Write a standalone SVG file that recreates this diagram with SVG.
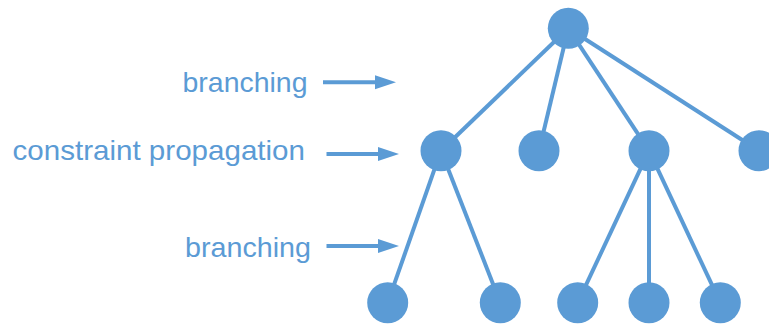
<svg xmlns="http://www.w3.org/2000/svg" width="769" height="327" viewBox="0 0 769 327">
<defs>
<style>
.lbl{font-family:"Liberation Sans",Arial,sans-serif;font-size:28px;fill:#5B9BD5}
.edge{stroke:#5B9BD5;stroke-width:4;fill:none}
.node{fill:#5B9BD5}
.arr{stroke:#5B9BD5;stroke-width:4}
.head{fill:#5B9BD5}
</style>
</defs>
<rect width="769" height="327" fill="#fff"/>
<g id="labels">
<g id="label-branching-1"><text class="lbl" x="182.5" y="91.5" textLength="125" lengthAdjust="spacingAndGlyphs">branching</text>
<line class="arr" x1="323" y1="82.3" x2="377" y2="82.3"/><polygon class="head" points="375,75.3 396,82.3 375,89.3"/></g>
<g id="label-propagation"><text class="lbl" x="12.5" y="160" textLength="292.5" lengthAdjust="spacingAndGlyphs">constraint propagation</text>
<line class="arr" x1="326.5" y1="154" x2="380" y2="154"/><polygon class="head" points="378,147 399,154 378,161"/></g>
<g id="label-branching-2"><text class="lbl" x="185" y="256.5" textLength="126" lengthAdjust="spacingAndGlyphs">branching</text>
<line class="arr" x1="326.5" y1="246" x2="380" y2="246"/><polygon class="head" points="378,239 399,246 378,253"/></g>
</g>
<g id="connectors">
<line class="edge" x1="568.3" y1="28.3" x2="441" y2="150.7"/>
<line class="edge" x1="568.3" y1="28.3" x2="539" y2="150.7"/>
<line class="edge" x1="568.3" y1="28.3" x2="649" y2="150.7"/>
<line class="edge" x1="568.3" y1="28.3" x2="759" y2="150.7"/>
<line class="edge" x1="441" y1="150.7" x2="387.7" y2="302.7"/>
<line class="edge" x1="441" y1="150.7" x2="500.3" y2="302.7"/>
<line class="edge" x1="649" y1="150.7" x2="577.7" y2="302.7"/>
<line class="edge" x1="649" y1="150.7" x2="649" y2="302.7"/>
<line class="edge" x1="649" y1="150.7" x2="720.3" y2="302.7"/>
</g>
<g id="n-root"><circle class="node" cx="568.3" cy="28.3" r="20.5"/></g>
<g id="n-a"><circle class="node" cx="441" cy="150.7" r="20.5"/></g>
<g id="n-b"><circle class="node" cx="539" cy="150.7" r="20.5"/></g>
<g id="n-c"><circle class="node" cx="649" cy="150.7" r="20.5"/></g>
<g id="n-d"><circle class="node" cx="759" cy="150.7" r="20.5"/></g>
<g id="n-a1"><circle class="node" cx="387.7" cy="302.7" r="20.5"/></g>
<g id="n-a2"><circle class="node" cx="500.3" cy="302.7" r="20.5"/></g>
<g id="n-c1"><circle class="node" cx="577.7" cy="302.7" r="20.5"/></g>
<g id="n-c2"><circle class="node" cx="649" cy="302.7" r="20.5"/></g>
<g id="n-c3"><circle class="node" cx="720.3" cy="302.7" r="20.5"/></g>
</svg>
